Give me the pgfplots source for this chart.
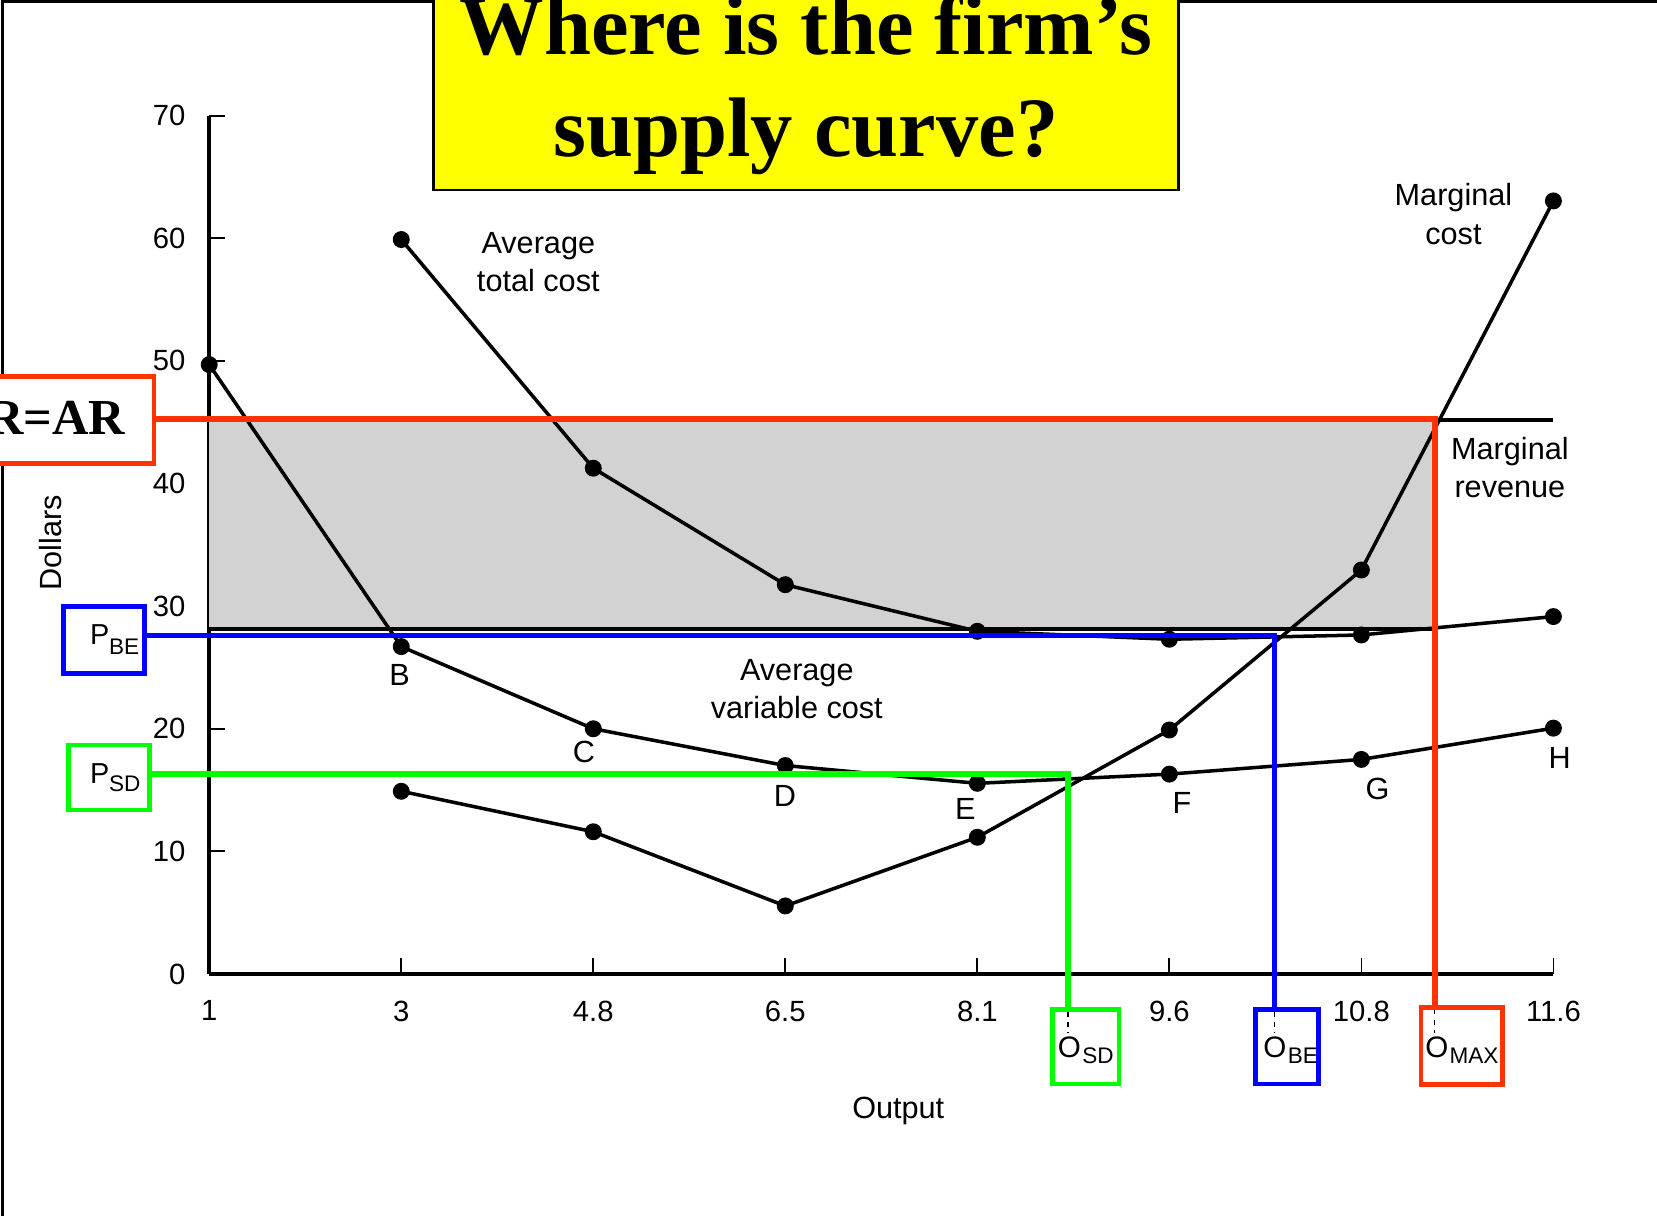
\documentclass[border=0pt]{standalone}
\usepackage{fontspec}
\setmainfont{Liberation Sans}
\newfontfamily\serifb{Liberation Serif}
\usepackage{pgfplots}
\pgfplotsset{compat=1.18}
\definecolor{myred}{RGB}{255,51,0}
\definecolor{myblue}{RGB}{0,0,255}
\definecolor{mygreen}{RGB}{0,255,0}
\definecolor{shade}{RGB}{210,210,210}
\definecolor{ttl}{RGB}{255,255,0}
\newcommand\lbl{\fontsize{8.7}{10}\selectfont}
\newcommand\sub{\fontsize{6.4}{7.5}\selectfont}
\begin{document}
\begin{tikzpicture}
\tikzset{px/.style={x=0.3pt,y=-0.3pt,shift={(-198,-921.7)}}}
\useasboundingbox[px] (0,0) rectangle (1568,1150);
\clip[px] (0,0) rectangle (1568,1150);
\draw[px, black, line width=0.8pt] (2.5,1.5) rectangle (3000,3000);
\begin{axis}[
  at={(0,0)}, anchor=south west,
  scale only axis, width=381.6pt, height=243.66pt,
  xmin=0, xmax=7, ymin=0, ymax=70,
  axis lines*=left,
  axis line style={line width=1.1pt},
  tick align=inside,
  major tick length=4.4pt,
  tick style={line width=0.5pt, black},
  xtick={0,1,2,3,4,5,6,7},
  xticklabels={1,3,4.8,6.5,8.1,9.6,10.8,11.6},
  ytick={0,10,20,30,40,50,60,70},
  yticklabels={0,10,20,30,40,50,60,70},
  tick label style={font=\fontsize{8.3}{9}\selectfont, inner sep=0pt},
  xticklabel style={anchor=north, yshift=-7.35pt},
  yticklabel style={anchor=east, xshift=-6.6pt},
  clip=false,
]
% shaded profit area
\addplot[fill=shade, draw=none] coordinates {(0,28.15) (6.383,28.15) (6.383,45.25) (0,45.25)} -- cycle;
% marginal revenue line and bottom edge of shaded area
\addplot[black, line width=1pt] coordinates {(0,45.2) (7,45.2)};
\addplot[black, line width=1pt] coordinates {(0,28.15) (6.383,28.15)};
% average variable cost (with first point)
\addplot[black, line width=1pt, mark=*, mark size=1.9pt] coordinates {
  (0,49.7) (1,26.7) (2,20.0) (3,17.0) (4,15.55) (5,16.3) (6,17.5) (7,20.05)};
% average total cost
\addplot[black, line width=1pt, mark=*, mark size=1.9pt] coordinates {
  (1,59.9) (2,41.25) (3,31.75) (4,27.95) (5,27.3) (6,27.65) (7,29.15)};
% marginal cost
\addplot[black, line width=1pt, mark=*, mark size=1.9pt] coordinates {
  (1,14.9) (2,11.6) (3,5.55) (4,11.15) (5,19.9) (6,32.95) (7,63.05)};
\end{axis}
\begin{scope}[px]
% coloured guide lines
\draw[myred, line width=1.7pt, line join=miter] (145.7,396.5) -- (1357.7,396.5) -- (1357.7,953.2);
\draw[myblue, line width=1.4pt, line join=miter] (136.3,601.5) -- (1206,601.5) -- (1206,955);
\draw[mygreen, line width=1.7pt, line join=miter] (141.9,732.4) -- (1010.5,732.4) -- (1010.5,955);
% MR=AR box
\draw[myred, line width=1.3pt, fill=white] (-82,356.4) rectangle (145.7,438.4);
\node[anchor=base east, inner sep=0pt] at (119.2,411.6) {\serifb\bfseries\fontsize{14.3}{16}\selectfont MR=AR};
% P_BE box
\node[anchor=base west, inner sep=0pt] at (84.5,610.3) {\fontsize{8.2}{9}\selectfont P};
\node[anchor=base west, inner sep=0pt] at (102.5,619.8) {\sub BE};
\draw[myblue, line width=1.4pt] (59.9,574.1) rectangle (136.3,637.1);
% P_SD box
\node[anchor=base west, inner sep=0pt] at (84.5,741.2) {\fontsize{8.2}{9}\selectfont P};
\node[anchor=base west, inner sep=0pt] at (102.5,749.1) {\sub SD};
\draw[mygreen, line width=1.4pt] (64.7,705) rectangle (141.9,766.5);
% bottom boxes
\draw[black, line width=0.4pt, dash pattern=on 1.5pt off 1.5pt] (1010.5,957) -- (1010.5,978);
\draw[black, line width=0.4pt, dash pattern=on 1.5pt off 1.5pt] (1206,957) -- (1206,978);
\draw[black, line width=0.4pt, dash pattern=on 1.5pt off 1.5pt] (1357.7,955) -- (1357.7,978);
\node[anchor=base, inner sep=0pt] at (1012,1000.5) {\fontsize{8.4}{9}\selectfont O};
\node[anchor=base west, inner sep=0pt] at (1023.5,1006.8) {\sub SD};
\draw[mygreen, line width=1.4pt] (996.2,955) rectangle (1058.9,1025.8);
\node[anchor=base, inner sep=0pt] at (1206.5,1000.5) {\fontsize{8.4}{9}\selectfont O};
\node[anchor=base west, inner sep=0pt] at (1218,1006.8) {\sub BE};
\draw[myblue, line width=1.4pt] (1188.2,955) rectangle (1247.9,1025.8);
\node[anchor=base, inner sep=0pt] at (1359.7,1000.5) {\fontsize{8.4}{9}\selectfont O};
\node[anchor=base west, inner sep=0pt] at (1371,1006.8) {\sub MAX};
\draw[myred, line width=1.4pt] (1344.7,953.2) rectangle (1421.6,1026.4);
% curve labels
\node[anchor=base, inner sep=0pt] at (509.4,239.7) {\lbl Average};
\node[anchor=base, inner sep=0pt] at (509.4,276) {\lbl total cost};
\node[anchor=base, inner sep=0pt] at (1375.4,194.9) {\lbl Marginal};
\node[anchor=base, inner sep=0pt] at (1375.4,231.8) {\lbl cost};
\node[anchor=base, inner sep=0pt] at (1428.8,434.6) {\lbl Marginal};
\node[anchor=base, inner sep=0pt] at (1428.8,470.6) {\lbl revenue};
\node[anchor=base, inner sep=0pt] at (754,643.5) {\lbl Average};
\node[anchor=base, inner sep=0pt] at (754,679.7) {\lbl variable cost};
\node[anchor=base, inner sep=0pt] at (378.2,649.1) {\lbl B};
\node[anchor=base, inner sep=0pt] at (552.6,721.7) {\lbl C};
\node[anchor=base, inner sep=0pt] at (742.8,763.3) {\lbl D};
\node[anchor=base, inner sep=0pt] at (913.6,775.3) {\lbl E};
\node[anchor=base, inner sep=0pt] at (1118.4,769.6) {\lbl F};
\node[anchor=base, inner sep=0pt] at (1303.6,756.4) {\lbl G};
\node[anchor=base, inner sep=0pt] at (1476,727.5) {\lbl H};
% axis titles
\node[rotate=90, anchor=base, inner sep=0pt] at (58.4,513.8) {\lbl Dollars};
\node[anchor=base, inner sep=0pt] at (850,1058) {\lbl Output};
% title box
\draw[black, line width=0.8pt, fill=ttl] (410.5,-100) rectangle (1115,179.8);
\node[anchor=base, inner sep=0pt] at (762.7,52) {\serifb\bfseries\fontsize{24}{28}\selectfont Where is the firm’s};
\node[anchor=base, inner sep=0pt] at (762.7,148.3) {\serifb\bfseries\fontsize{24}{28}\selectfont supply curve?};
\end{scope}
\end{tikzpicture}
\end{document}
